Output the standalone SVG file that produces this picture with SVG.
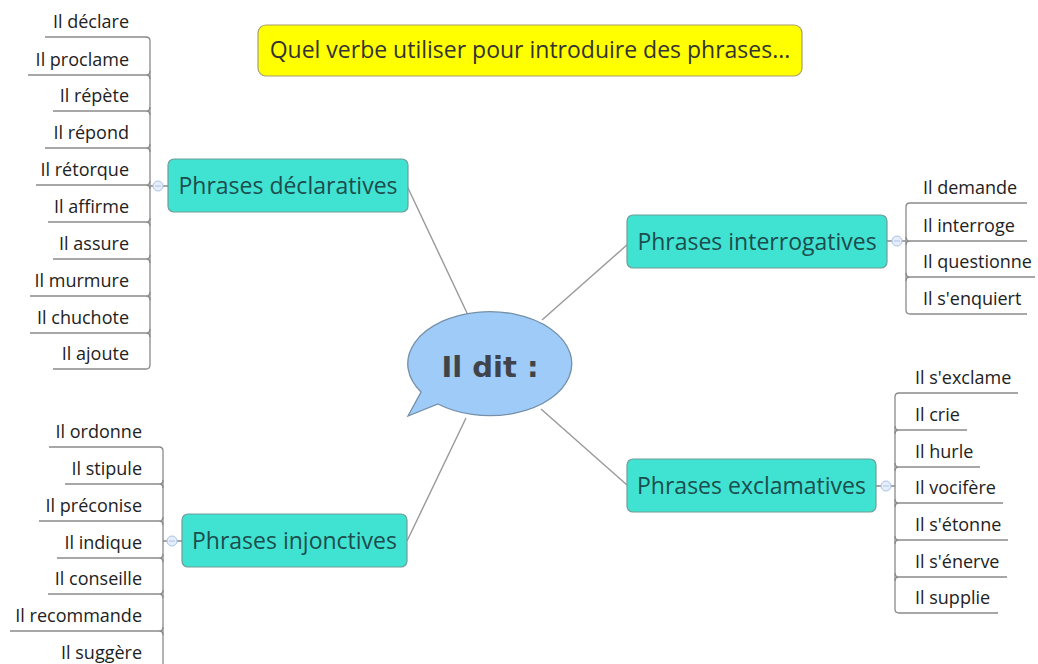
<svg xmlns="http://www.w3.org/2000/svg" width="1038" height="664" viewBox="0 0 1038 664">
<style>
.leaf{font-family:"Open Sans","Noto Sans",sans-serif;font-size:18px;fill:#222}
.lend{text-anchor:end}
.br rect{fill:#40e3d2;stroke:#6f9e98;stroke-width:1.2}
.br text{font-family:"Open Sans","Noto Sans",sans-serif;font-size:23px;fill:#1d4d4d;text-anchor:middle}
.ul{fill:none;stroke:#8a8a8a;stroke-width:1.3}
.con{fill:none;stroke:#999;stroke-width:1.4}
.tog{fill:#e6eefb;stroke:#aac2e4;stroke-width:1}
.togm{stroke:#aac2e4;stroke-width:1}
</style>
<rect width="1038" height="664" fill="#fff"/>

<g id="connectors">
<path class="con" d="M408,188 L467,313"/>
<path class="con" d="M628,244 L542,320"/>
<path class="con" d="M627,485 L541,409"/>
<path class="con" d="M407,541 L466,418"/>
</g>

<g id="title">
<rect x="258" y="25" width="544" height="51" rx="8" fill="#ffff00" stroke="#a8a070" stroke-width="1.2"/>
<text x="530" y="58" font-family="'Open Sans','Noto Sans',sans-serif" font-size="23" fill="#333" text-anchor="middle">Quel verbe utiliser pour introduire des phrases...</text>
</g>

<g id="center">
<path d="M421,392 A82 52 0 1 1 438,404 L408,416 Z" fill="#9ecbf8" stroke="#7590a8" stroke-width="1.3"/>
<text x="490" y="377" font-family="'DejaVu Sans',Verdana,sans-serif" font-weight="bold" font-size="29" fill="#404448" text-anchor="middle">Il dit :</text>
</g>

<g id="declaratives" class="br">
<rect x="168" y="159" width="240" height="53" rx="6"/>
<text x="288" y="194">Phrases déclaratives</text>
</g>
<g id="interrogatives" class="br">
<rect x="627" y="215" width="260" height="53" rx="6"/>
<text x="757" y="250">Phrases interrogatives</text>
</g>
<g id="exclamatives" class="br">
<rect x="627" y="459" width="249" height="53" rx="6"/>
<text x="751.5" y="494">Phrases exclamatives</text>
</g>
<g id="injonctives" class="br">
<rect x="182" y="514" width="225" height="53" rx="6"/>
<text x="294.5" y="549">Phrases injonctives</text>
</g>

<g id="declaratives-leaves">
<path class="ul" d="M150,41 V365 M150,186 H153 M163,186 H168"/>
<circle class="tog" cx="158" cy="186" r="5"/><path class="togm" d="M155,186 H161"/>
<path class="ul" d="M45,37 H146 Q150,37 150,41"/>
<path class="ul" d="M28,75 H146 Q150,75 150,79 M146,75 Q150,75 150,71"/>
<path class="ul" d="M53,111 H146 Q150,111 150,115 M146,111 Q150,111 150,107"/>
<path class="ul" d="M45,148 H146 Q150,148 150,152 M146,148 Q150,148 150,144"/>
<path class="ul" d="M36,185 H146 Q150,185 150,189 M146,185 Q150,185 150,181"/>
<path class="ul" d="M48,222 H146 Q150,222 150,226 M146,222 Q150,222 150,218"/>
<path class="ul" d="M53,259 H146 Q150,259 150,263 M146,259 Q150,259 150,255"/>
<path class="ul" d="M30,296 H146 Q150,296 150,300 M146,296 Q150,296 150,292"/>
<path class="ul" d="M30,333 H146 Q150,333 150,337 M146,333 Q150,333 150,329"/>
<path class="ul" d="M53,369 H146 Q150,369 150,365"/>
<text class="leaf lend" x="129" y="28">Il déclare</text>
<text class="leaf lend" x="129" y="66">Il proclame</text>
<text class="leaf lend" x="129" y="102">Il répète</text>
<text class="leaf lend" x="129" y="139">Il répond</text>
<text class="leaf lend" x="129" y="176">Il rétorque</text>
<text class="leaf lend" x="129" y="213">Il affirme</text>
<text class="leaf lend" x="129" y="250">Il assure</text>
<text class="leaf lend" x="129" y="287">Il murmure</text>
<text class="leaf lend" x="129" y="324">Il chuchote</text>
<text class="leaf lend" x="129" y="360">Il ajoute</text>
</g>

<g id="interrogatives-leaves">
<path class="ul" d="M906,207 V310 M887,241 H892 M902,241 H906"/>
<circle class="tog" cx="897" cy="241" r="5"/><path class="togm" d="M894,241 H900"/>
<path class="ul" d="M1027,203 H910 Q906,203 906,207"/>
<path class="ul" d="M1027,241 H910 Q906,241 906,245 M910,241 Q906,241 906,237"/>
<path class="ul" d="M1035,277 H910 Q906,277 906,281 M910,277 Q906,277 906,273"/>
<path class="ul" d="M1027,314 H910 Q906,314 906,310"/>
<text class="leaf" x="923" y="194">Il demande</text>
<text class="leaf" x="923" y="232">Il interroge</text>
<text class="leaf" x="923" y="268">Il questionne</text>
<text class="leaf" x="923" y="305">Il s'enquiert</text>
</g>

<g id="exclamatives-leaves">
<path class="ul" d="M895,397 V609 M876,486 H881 M891,486 H895"/>
<circle class="tog" cx="886" cy="486" r="5"/><path class="togm" d="M883,486 H889"/>
<path class="ul" d="M1018,393 H899 Q895,393 895,397"/>
<path class="ul" d="M967,430 H899 Q895,430 895,434 M899,430 Q895,430 895,426"/>
<path class="ul" d="M980,467 H899 Q895,467 895,471 M899,467 Q895,467 895,463"/>
<path class="ul" d="M1003,503 H899 Q895,503 895,507 M899,503 Q895,503 895,499"/>
<path class="ul" d="M1008,540 H899 Q895,540 895,544 M899,540 Q895,540 895,536"/>
<path class="ul" d="M1007,577 H899 Q895,577 895,581 M899,577 Q895,577 895,573"/>
<path class="ul" d="M998,613 H899 Q895,613 895,609"/>
<text class="leaf" x="915" y="384">Il s'exclame</text>
<text class="leaf" x="915" y="421">Il crie</text>
<text class="leaf" x="915" y="458">Il hurle</text>
<text class="leaf" x="915" y="494">Il vocifère</text>
<text class="leaf" x="915" y="531">Il s'étonne</text>
<text class="leaf" x="915" y="568">Il s'énerve</text>
<text class="leaf" x="915" y="604">Il supplie</text>
</g>

<g id="injonctives-leaves">
<path class="ul" d="M163,451 V670 M163,541 H167 M177,541 H182"/>
<circle class="tog" cx="172" cy="541" r="5"/><path class="togm" d="M169,541 H175"/>
<path class="ul" d="M49,447 H159 Q163,447 163,451"/>
<path class="ul" d="M65,484 H159 Q163,484 163,488 M159,484 Q163,484 163,480"/>
<path class="ul" d="M39,521 H159 Q163,521 163,525 M159,521 Q163,521 163,517"/>
<path class="ul" d="M57,558 H159 Q163,558 163,562 M159,558 Q163,558 163,554"/>
<path class="ul" d="M48,594 H159 Q163,594 163,598 M159,594 Q163,594 163,590"/>
<path class="ul" d="M10,631 H159 Q163,631 163,635 M159,631 Q163,631 163,627"/>
<text class="leaf lend" x="142" y="438">Il ordonne</text>
<text class="leaf lend" x="142" y="475">Il stipule</text>
<text class="leaf lend" x="142" y="512">Il préconise</text>
<text class="leaf lend" x="142" y="549">Il indique</text>
<text class="leaf lend" x="142" y="585">Il conseille</text>
<text class="leaf lend" x="142" y="622">Il recommande</text>
<text class="leaf lend" x="142" y="659">Il suggère</text>
</g>
</svg>
